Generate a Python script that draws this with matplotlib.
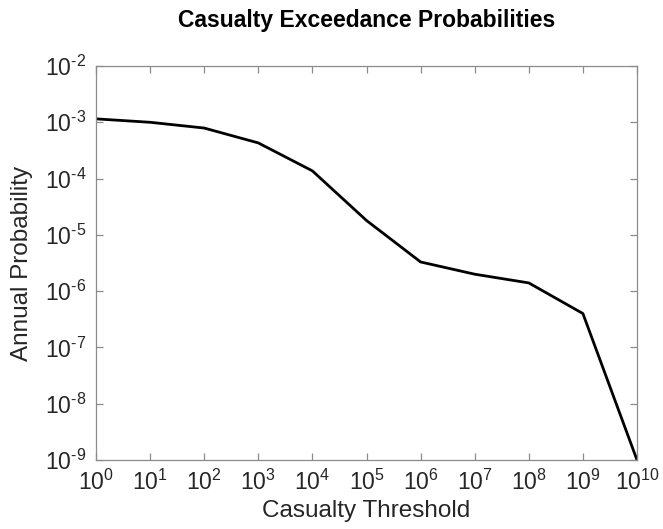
import matplotlib
matplotlib.use("Agg")
import matplotlib.pyplot as plt
from matplotlib.ticker import LogLocator, NullLocator, FuncFormatter
import math

thresholds = [1e0, 1e1, 1e2, 1e3, 1e4, 1e5, 1e6, 1e7, 1e8, 1e9, 1e10]
probabilities = [1.15e-3, 1.0e-3, 7.9e-4, 4.3e-4, 1.37e-4, 1.8e-5, 3.3e-6, 2.0e-6, 1.4e-6, 4.0e-7, 1e-9]

plt.rcParams['font.family'] = ['Liberation Sans', 'DejaVu Sans']
plt.rcParams['mathtext.fontset'] = 'custom'
plt.rcParams['mathtext.rm'] = 'Liberation Sans'
plt.rcParams['mathtext.it'] = 'Liberation Sans'
plt.rcParams['mathtext.default'] = 'rm'

W, H = 663, 529
fig = plt.figure(figsize=(W/100, H/100), dpi=100)
left, right, top, bottom = 96, 637, 66, 460
ax = fig.add_axes([left/W, 1 - bottom/H, (right-left)/W, (bottom-top)/H])
ax.plot(thresholds, probabilities, color='black', linewidth=2.0)
ax.set_xscale('log')
ax.set_yscale('log')
ax.set_xlim(1e0, 1e10)
ax.set_ylim(1e-9, 1e-2)
ax.xaxis.set_major_locator(LogLocator(base=10, numticks=20))
ax.yaxis.set_major_locator(LogLocator(base=10, numticks=20))
ax.xaxis.set_minor_locator(NullLocator())
ax.yaxis.set_minor_locator(NullLocator())

def fmt(v, pos):
    e = int(round(math.log10(v)))
    return r'$10^{\text{%d}}$' % e

ax.xaxis.set_major_formatter(FuncFormatter(fmt))
ax.yaxis.set_major_formatter(FuncFormatter(fmt))

gray = '#8c8c8c'
for s in ax.spines.values():
    s.set_color(gray)
    s.set_linewidth(0.9)
ax.tick_params(which='both', direction='in', top=True, right=True, color=gray,
               length=5, width=0.9, labelsize=16.5, labelcolor='#262626')
ax.tick_params(axis='x', pad=7)
ax.tick_params(axis='y', pad=7)

cx = (left + right) / 2 / W
fig.text(cx, 1 - 21/H, 'Casualty Exceedance Probabilities', fontsize=16.5,
         fontweight='bold', ha='center', va='center', color='black')
fig.text(cx, 1 - 511/H, 'Casualty Threshold', fontsize=17.5, ha='center',
         va='center', color='#262626')
fig.text(22/W, 1 - ((top + bottom) / 2)/H, 'Annual Probability', fontsize=17.5,
         ha='center', va='center', rotation=90, color='#262626')
fig.savefig('out.png', dpi=100)
